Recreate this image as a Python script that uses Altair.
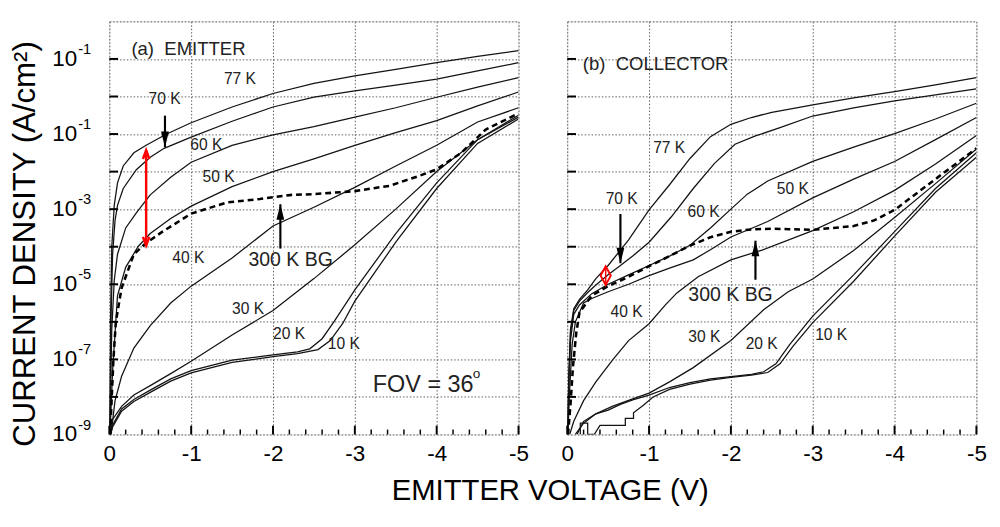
import altair as alt
import pandas as pd

FONT = "Liberation Sans"
W, H = 420, 424

# ---------------- data: (voltage V, log10 of current density A/cm^2)
# (a) EMITTER
E_77K = [(-0.005,-9),(-0.015,-6.0),(-0.03,-4.0),(-0.06,-2.9),(-0.1,-2.3),(-0.17,-1.85),(-0.3,-1.5),(-0.45,-1.3),(-0.7,-1.0),(-1.0,-0.7),(-1.5,-0.28),(-2.0,0.08),(-2.5,0.35),(-3.0,0.55),(-3.5,0.72),(-4.0,0.9),(-4.5,1.07),(-5.0,1.22)]
E_70K = [(-0.005,-9),(-0.02,-6.0),(-0.04,-4.2),(-0.07,-3.3),(-0.1,-2.9),(-0.17,-2.45),(-0.33,-1.95),(-0.5,-1.62),(-0.67,-1.38),(-1.0,-1.08),(-1.5,-0.66),(-2.0,-0.28),(-2.5,-0.02),(-3.0,0.15),(-3.5,0.3),(-4.0,0.46),(-4.5,0.68),(-5.0,0.9)]
E_60K = [(-0.005,-9),(-0.03,-6.2),(-0.06,-4.9),(-0.1,-4.2),(-0.2,-3.5),(-0.33,-3.1),(-0.5,-2.62),(-0.75,-2.15),(-1.0,-1.75),(-1.5,-1.3),(-2.0,-1.02),(-2.5,-0.8),(-3.0,-0.55),(-3.5,-0.3),(-4.0,-0.02),(-4.5,0.25),(-5.0,0.5)]
E_50K = [(-0.008,-9),(-0.04,-7.3),(-0.1,-5.3),(-0.2,-4.55),(-0.35,-4.0),(-0.5,-3.65),(-0.75,-3.25),(-1.0,-2.92),(-1.5,-2.4),(-2.0,-2.0),(-2.5,-1.66),(-3.0,-1.3),(-3.5,-0.96),(-4.0,-0.64),(-4.5,-0.25),(-5.0,0.12)]
E_40K = [(-0.02,-9),(-0.07,-8.1),(-0.15,-7.45),(-0.3,-6.7),(-0.5,-6.1),(-0.75,-5.5),(-1.0,-5.05),(-1.5,-4.3),(-2.0,-3.45),(-2.5,-2.95),(-3.0,-2.42),(-3.5,-1.85),(-4.0,-1.3),(-4.5,-0.68),(-5.0,-0.3)]
E_30K = [(-0.015,-9),(-0.04,-8.6),(-0.15,-8.25),(-0.3,-7.95),(-0.5,-7.7),(-0.75,-7.38),(-1.0,-7.05),(-1.5,-6.35),(-2.0,-5.7),(-2.5,-4.85),(-3.0,-3.95),(-3.5,-3.0),(-4.0,-2.0),(-4.5,-1.15),(-5.0,-0.5)]
E_20K = [(-0.015,-9),(-0.04,-8.75),(-0.15,-8.32),(-0.3,-8.07),(-0.5,-7.82),(-0.75,-7.52),(-1.0,-7.3),(-1.5,-7.02),(-2.0,-6.88),(-2.3,-6.8),(-2.45,-6.72),(-2.6,-6.45),(-2.75,-5.98),(-3.0,-5.15),(-3.5,-3.65),(-4.0,-2.3),(-4.5,-1.15),(-5.0,-0.55)]
E_10K = [(-0.015,-9),(-0.04,-8.8),(-0.15,-8.38),(-0.3,-8.12),(-0.5,-7.88),(-0.75,-7.58),(-1.0,-7.36),(-1.5,-7.08),(-2.0,-6.93),(-2.3,-6.85),(-2.55,-6.74),(-2.7,-6.5),(-2.85,-6.05),(-3.0,-5.45),(-3.5,-3.88),(-4.0,-2.45),(-4.5,-1.25),(-5.0,-0.6)]
E_BG = [(-0.01,-9),(-0.03,-8.0),(-0.05,-7.0),(-0.08,-6.0),(-0.15,-5.1),(-0.3,-4.2),(-0.45,-3.9),(-0.65,-3.6),(-1.0,-3.12),(-1.44,-2.82),(-1.84,-2.73),(-2.23,-2.62),(-2.5,-2.6),(-3.0,-2.52),(-3.42,-2.38),(-3.78,-2.12),(-4.0,-1.94),(-4.3,-1.5),(-4.6,-0.88),(-5.0,-0.45)]

# (b) COLLECTOR
C_77K = [(-0.005,-9),(-0.02,-7.4),(-0.04,-6.2),(-0.08,-5.65),(-0.15,-5.4),(-0.25,-5.15),(-0.35,-4.85),(-0.5,-4.5),(-0.75,-3.82),(-1.0,-3.02),(-1.25,-2.35),(-1.5,-1.65),(-1.75,-1.07),(-2.0,-0.74),(-2.25,-0.56),(-2.5,-0.42),(-3.0,-0.22),(-3.5,-0.04),(-4.0,0.13),(-4.5,0.31),(-5.0,0.5)]
C_70K = [(-0.005,-9),(-0.02,-7.5),(-0.04,-6.3),(-0.08,-5.7),(-0.15,-5.45),(-0.25,-5.22),(-0.35,-5.02),(-0.5,-4.75),(-0.65,-4.5),(-0.8,-4.25),(-1.0,-3.88),(-1.27,-3.21),(-1.54,-2.45),(-1.8,-1.78),(-2.05,-1.27),(-2.3,-1.05),(-2.6,-0.83),(-3.0,-0.52),(-3.5,-0.3),(-4.0,-0.12),(-4.5,0.04),(-5.0,0.2)]
C_60K = [(-0.005,-9),(-0.02,-7.6),(-0.04,-6.5),(-0.08,-5.8),(-0.15,-5.55),(-0.3,-5.25),(-0.5,-5.0),(-0.75,-4.75),(-1.0,-4.5),(-1.25,-4.25),(-1.5,-3.96),(-1.75,-3.5),(-2.0,-3.0),(-2.2,-2.6),(-2.45,-2.25),(-3.0,-1.73),(-3.5,-1.35),(-4.0,-0.99),(-4.5,-0.6),(-5.0,-0.18)]
C_50K = [(-0.008,-9),(-0.03,-7.8),(-0.06,-6.6),(-0.1,-6.0),(-0.2,-5.5),(-0.3,-5.38),(-0.5,-5.2),(-0.75,-5.0),(-1.0,-4.77),(-1.25,-4.57),(-1.54,-4.35),(-1.75,-4.08),(-2.0,-3.74),(-2.45,-3.33),(-3.0,-2.7),(-3.5,-2.2),(-4.0,-1.73),(-4.5,-1.15),(-5.0,-0.56)]
C_40K = [(-0.03,-9),(-0.08,-8.65),(-0.2,-8.1),(-0.35,-7.6),(-0.56,-7.0),(-0.75,-6.5),(-1.0,-6.05),(-1.2,-5.55),(-1.34,-5.23),(-1.6,-4.8),(-2.0,-4.35),(-2.38,-4.09),(-3.0,-3.57),(-3.5,-3.07),(-4.0,-2.5),(-4.5,-1.8),(-5.0,-1.04)]
C_30K = [(-0.1,-9),(-0.2,-8.7),(-0.35,-8.45),(-0.55,-8.25),(-0.8,-8.05),(-1.0,-7.9),(-1.25,-7.6),(-1.54,-7.22),(-2.0,-6.5),(-2.4,-5.68),(-2.7,-5.2),(-3.0,-4.86),(-3.5,-4.1),(-4.0,-3.22),(-4.5,-2.32),(-5.0,-1.4)]
C_20K = [(-0.12,-9),(-0.2,-8.65),(-0.35,-8.45),(-0.5,-8.35),(-0.65,-8.2),(-0.8,-8.08),(-1.0,-7.95),(-1.25,-7.75),(-1.5,-7.62),(-1.75,-7.52),(-2.0,-7.46),(-2.25,-7.4),(-2.4,-7.33),(-2.55,-7.12),(-2.72,-6.6),(-3.0,-5.85),(-3.5,-4.75),(-4.0,-3.6),(-4.5,-2.45),(-5.0,-1.5)]
C_10K = [(-0.16,-9),(-0.16,-8.7),(-0.25,-8.7),(-0.25,-9),(-0.33,-9),(-0.4,-8.76),(-0.71,-8.76),(-0.71,-8.57),(-0.81,-8.57),(-0.81,-8.42),(-0.93,-8.22),(-1.05,-8.0),(-1.25,-7.8),(-1.5,-7.66),(-1.75,-7.55),(-2.0,-7.48),(-2.25,-7.42),(-2.45,-7.35),(-2.6,-7.12),(-2.76,-6.65),(-3.0,-6.02),(-3.5,-4.92),(-4.0,-3.72),(-4.5,-2.55),(-5.0,-1.62)]
C_BG = [(-0.01,-9),(-0.04,-8.2),(-0.07,-7.2),(-0.11,-6.3),(-0.15,-5.75),(-0.3,-5.3),(-0.5,-5.05),(-0.75,-4.8),(-1.0,-4.52),(-1.25,-4.25),(-1.5,-3.97),(-1.75,-3.75),(-2.0,-3.6),(-2.25,-3.54),(-2.5,-3.52),(-3.0,-3.55),(-3.5,-3.45),(-3.75,-3.3),(-4.0,-3.02),(-4.5,-2.2),(-5.0,-1.38)]

# ---------------- annotation text: (V, log10 J, text, font size)
NB = "\u00a0"
E_LABELS = [(-0.27,1.27,"(a)" + NB + NB + "EMITTER",19),(-1.40,0.46,"77 K",16),(-0.48,-0.07,"70 K",16),
            (-0.99,-1.30,"60 K",16),(-1.14,-2.16,"50 K",16),(-0.77,-4.31,"40 K",16),
            (-1.70,-4.36,"300 K BG",20),(-1.50,-5.67,"30 K",16),(-2.0,-6.32,"20 K",16),
            (-2.67,-6.59,"10 K",16),(-3.22,-7.69,"FOV = 36",24),(-4.44,-7.40,"o",14)]
C_LABELS = [(-0.19,0.87,"(b)" + NB + NB + "COLLECTOR",19),(-1.05,-1.38,"77 K",16),(-0.47,-2.74,"70 K",16),
            (-1.47,-3.08,"60 K",16),(-2.56,-2.48,"50 K",16),(-0.53,-5.75,"40 K",16),
            (-1.48,-5.28,"300 K BG",20),(-1.48,-6.40,"30 K",16),(-2.18,-6.59,"20 K",16),
            (-3.03,-6.35,"10 K",16)]
# black arrows: (V, log10 J tail, log10 J tip)
E_ARROWS = [(-0.68,-0.51,-1.35),(-2.09,-4.05,-2.87)]
C_ARROWS = [(-0.65,-3.13,-4.44),(-2.30,-4.88,-3.84)]
# red markers: (V, log10 J top, log10 J bottom)
E_RED = [(-0.45,-1.43,-3.97)]
C_RED = [(-0.47,-4.52,-5.02)]

X_TICKS = [0, -1, -2, -3, -4, -5]
X_MINOR = [-0.2,-0.4,-0.6,-0.8,-1.2,-1.4,-1.6,-1.8,-2.2,-2.4,-2.6,-2.8,-3.2,-3.4,-3.6,-3.8,-4.2,-4.4,-4.6,-4.8]
Y_DECADES = [-9,-8,-7,-6,-5,-4,-3,-2,-1,0,1,2]
Y_LABEL_EXP = [-9,-7,-5,-3,-1,1]
Y_LABEL_SUP = ["-9","-7","-5","-3","-1","-1"]

# ---------------- helpers
def curves_df(named):
    rows = []
    for name, pts in named:
        for i, (v, e) in enumerate(pts):
            rows.append({"curve": name, "i": i, "V": v, "J": 10.0 ** e})
    return pd.DataFrame(rows)

XSCALE = alt.Scale(domain=[0, -5], nice=False, zero=False)
YSCALE = alt.Scale(type="log", domain=[1e-9, 1e2], nice=False)
GRID = dict(grid=True, gridDash=[1.5, 2], gridColor="#5a5a5a", gridWidth=1, gridOpacity=1)

XAXIS = alt.Axis(values=X_TICKS, ticks=False, domain=False, labelFlush=False,
                 labelExpr="datum.value == 0 ? '0' : '-' + (-datum.value)",
                 labelFont=FONT, labelFontSize=23, labelColor="black", labelPadding=9,
                 title=None, **GRID)
YAXIS_L = alt.Axis(values=[10.0 ** e for e in Y_DECADES], ticks=False, domain=False, labels=False,
                   title="CURRENT DENSITY (A/cm²)", titleFont=FONT, titleFontSize=32,
                   titleFontWeight="normal", titleColor="black", titlePadding=70, titleY=228,
                   **GRID)
YAXIS_R = alt.Axis(values=[10.0 ** e for e in Y_DECADES], ticks=False, domain=False, labels=False,
                   title=None, **GRID)

DOWN_HEAD = "M0,0L-0.5,-2L0.5,-2Z"
UP_HEAD = "M0,0L-0.5,2L0.5,2Z"
RED_DOWN = "M-0.55,-1.5L0,0L0.55,-1.5"
RED_UP = "M-0.55,1.5L0,0L0.55,1.5"
DIAMOND = "M0,-1L0.55,0L0,1L-0.55,0Z"


def panel(curves, bg, labels, arrows, red, yaxis, left):
    X = lambda f="V": alt.X(f + ":Q", scale=XSCALE, axis=XAXIS)
    Y = lambda f="J": alt.Y(f + ":Q", scale=YSCALE, axis=yaxis)

    solid = alt.Chart(curves_df(curves)).mark_line(color="#141414", strokeWidth=1.3, clip=True).encode(
        x=X(), y=Y(), detail="curve:N", order="i:Q")
    dashed = alt.Chart(curves_df([("300 K BG", bg)])).mark_line(
        color="black", strokeWidth=2.6, strokeDash=[6, 4], clip=True).encode(x=X(), y=Y(), order="i:Q")

    tx_major = alt.Chart(pd.DataFrame({"V": X_TICKS})).mark_rule(color="black", strokeWidth=2).encode(
        x=X(), y=alt.value(H), y2=alt.value(H - 9))
    tx_minor = alt.Chart(pd.DataFrame({"V": X_MINOR})).mark_rule(color="black", strokeWidth=1.5).encode(
        x=X(), y=alt.value(H), y2=alt.value(H - 5))
    ty = alt.Chart(pd.DataFrame({"J": [10.0 ** e for e in Y_DECADES[1:-1]]})).mark_rule(
        color="black", strokeWidth=2).encode(y=Y(), x=alt.value(0), x2=alt.value(9))

    lab = pd.DataFrame([{"V": v, "J": 10.0 ** e, "t": t, "fs": fs} for v, e, t, fs in labels])
    text = alt.Chart(lab).mark_text(align="left", baseline="middle", font=FONT, color="#222").encode(
        x=X(), y=Y(), text="t:N", size=alt.Size("fs:Q", scale=None, legend=None))

    arr = pd.DataFrame([{"V": v, "J1": 10.0 ** a, "J2": 10.0 ** b} for v, a, b in arrows])
    shaft = alt.Chart(arr).mark_rule(color="black", strokeWidth=2.2).encode(x=X(), y=Y("J1"), y2="J2:Q")
    down = arr[arr.J2 < arr.J1]
    up = arr[arr.J2 > arr.J1]
    heads_d = alt.Chart(down).mark_point(shape=DOWN_HEAD, filled=True, color="black", size=256, opacity=1).encode(
        x=X(), y=Y("J2"))
    heads_u = alt.Chart(up).mark_point(shape=UP_HEAD, filled=True, color="black", size=256, opacity=1).encode(
        x=X(), y=Y("J2"))

    rd = pd.DataFrame([{"V": v, "J1": 10.0 ** a, "J2": 10.0 ** b, "Jm": 10.0 ** ((a + b) / 2)} for v, a, b in red])
    red_layers = []
    if left:
        red_layers.append(alt.Chart(rd).mark_rule(color="#ff0000", strokeWidth=2.5).encode(
            x=X(), y=Y("J1"), y2="J2:Q"))
        red_layers.append(alt.Chart(rd).mark_point(shape=RED_UP, filled=False, color="#ff0000",
                                                   strokeWidth=2.5, size=144, opacity=1).encode(x=X(), y=Y("J1")))
        red_layers.append(alt.Chart(rd).mark_point(shape=RED_DOWN, filled=False, color="#ff0000",
                                                   strokeWidth=2.5, size=144, opacity=1).encode(x=X(), y=Y("J2")))
    else:
        red_layers.append(alt.Chart(rd).mark_rule(color="#ff0000", strokeWidth=1.5).encode(
            x=X(), y=Y("J1"), y2="J2:Q"))
        red_layers.append(alt.Chart(rd).mark_point(shape=DIAMOND, filled=False, color="#ff0000",
                                                   strokeWidth=2, size=361, opacity=1).encode(x=X(), y=Y("Jm")))

    layers = [solid, dashed, tx_major, tx_minor, ty, text, shaft, heads_d, heads_u] + red_layers

    if left:
        yl = pd.DataFrame({"J": [10.0 ** e for e in Y_LABEL_EXP], "sup": Y_LABEL_SUP})
        tens = alt.Chart(yl).mark_text(align="right", baseline="middle", font=FONT, fontSize=23,
                                       color="black").encode(y=Y(), x=alt.value(-33), text=alt.value("10"))
        sups = alt.Chart(yl).mark_text(align="left", baseline="middle", font=FONT, fontSize=15, dy=-10,
                                       color="black").encode(y=Y(), x=alt.value(-32), text="sup:N")
        layers += [tens, sups]

    return alt.layer(*layers).properties(width=W, height=H)


left_panel = panel([("77 K", E_77K), ("70 K", E_70K), ("60 K", E_60K), ("50 K", E_50K),
                    ("40 K", E_40K), ("30 K", E_30K), ("20 K", E_20K), ("10 K", E_10K)],
                   E_BG, E_LABELS, E_ARROWS, E_RED, YAXIS_L, True)
right_panel = panel([("77 K", C_77K), ("70 K", C_70K), ("60 K", C_60K), ("50 K", C_50K),
                     ("40 K", C_40K), ("30 K", C_30K), ("20 K", C_20K), ("10 K", C_10K)],
                    C_BG, C_LABELS, C_ARROWS, C_RED, YAXIS_R, False)

chart = alt.hconcat(left_panel, right_panel, spacing=32).properties(
    title=alt.TitleParams("EMITTER VOLTAGE (V)", orient="bottom", anchor="middle", font=FONT,
                          fontSize=30, fontWeight="normal", color="black", offset=11, dx=54),
    padding={"left": 0, "top": 6, "right": 5, "bottom": 5},
).configure_view(stroke="black", strokeWidth=2.5).configure(font=FONT)

chart.save("out.html", embed_options={"renderer": "svg", "actions": False})
